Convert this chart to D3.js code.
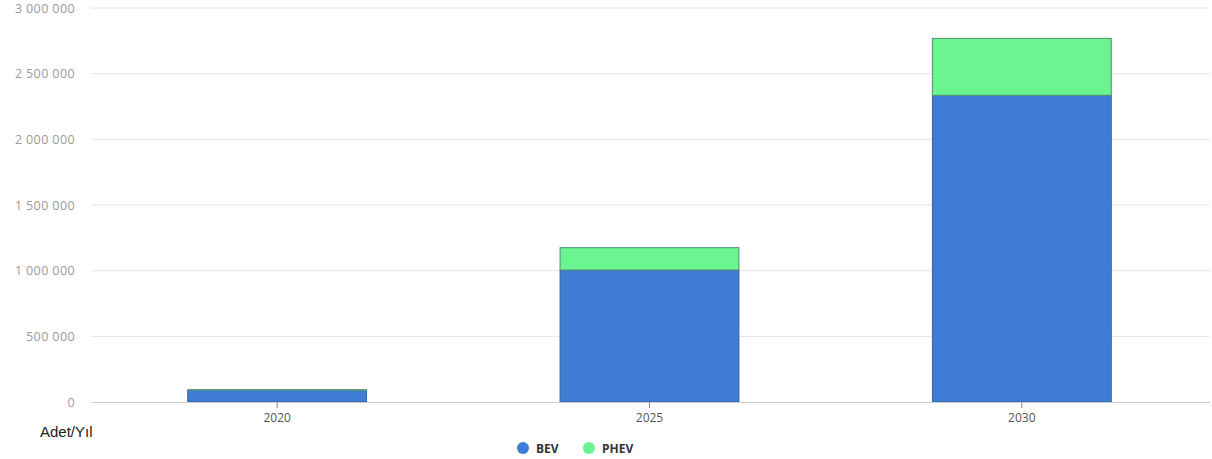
<!DOCTYPE html>
<html><head><meta charset="utf-8">
<script src="https://cdn.jsdelivr.net/npm/d3@7"></script>
<style>body{margin:0;background:#fff;font-family:"Open Sans",Arial,sans-serif}</style>
</head><body><svg id="c" width="1212" height="459"></svg>
<script>
const categories = ["2020", "2025", "2030"];
const bev = [90000, 1005000, 2335000];
const phev = [3000, 170000, 434000];
const yTicks = [0, 500000, 1000000, 1500000, 2000000, 2500000, 3000000];
const seriesNames = ["BEV", "PHEV"];
const colors = ["#3f7cd6", "#6af590"];
const strokes = ["#35649a", "#4f8f72"];

(function () {
const svg = d3.select("#c");
const mLeft = 91, mRight = 1208, mTop = 8, mBottom = 402;
const x = d3.scaleBand().domain(categories).range([mLeft, mRight]).paddingInner(0.517).paddingOuter(0.2585);
const y = d3.scaleLinear().domain([0, 3000000]).range([mBottom, mTop]);
const fmt = v => d3.format(",")(v).replace(/,/g, " ");

svg.append("g").selectAll("line").data(yTicks.filter(d => d > 0)).join("line")
  .attr("x1", mLeft).attr("x2", 1210).attr("y1", d => y(d)).attr("y2", d => y(d))
  .attr("stroke", "#e6e6e6").attr("stroke-width", 1);

svg.append("g").selectAll("text").data(yTicks).join("text")
  .attr("x", 75).attr("y", d => y(d) + 4.5).attr("text-anchor", "end")
  .attr("font-size", 12.5).attr("letter-spacing", 0.4).attr("fill", "#9a9a9a").text(d => fmt(d));

const data = categories.map((c, i) => ({cat: c, BEV: bev[i], PHEV: phev[i]}));
const stack = d3.stack().keys(seriesNames)(data);
svg.append("g").selectAll("g").data(stack).join("g")
  .attr("fill", (d, i) => colors[i]).attr("stroke", (d, i) => strokes[i])
  .selectAll("rect").data(d => d).join("rect")
  .attr("x", d => x(d.data.cat) + 0.5).attr("width", x.bandwidth() - 1)
  .attr("y", d => y(d[1])).attr("height", d => y(d[0]) - y(d[1]))
  .attr("stroke-width", 1);

svg.append("line").attr("x1", mLeft).attr("x2", 1210).attr("y1", mBottom + 0.5).attr("y2", mBottom + 0.5)
  .attr("stroke", "#cccccc");

const xg = svg.append("g").attr("transform", `translate(0,${mBottom})`);
xg.selectAll("line").data(categories).join("line")
  .attr("x1", d => x(d) + x.bandwidth() / 2).attr("x2", d => x(d) + x.bandwidth() / 2)
  .attr("y1", 0).attr("y2", 6).attr("stroke", "#888");
xg.selectAll("text").data(categories).join("text")
  .attr("x", d => x(d) + x.bandwidth() / 2).attr("y", 20).attr("text-anchor", "middle")
  .attr("font-size", 12).attr("fill", "#555").text(d => d);

svg.append("text").attr("x", 40).attr("y", 437).attr("font-size", 15)
  .attr("font-family", "Liberation Sans, Arial, sans-serif").attr("fill", "#222").text("Adet/Yıl");

const lg = svg.append("g");
const lx = [523, 589];
seriesNames.forEach((s, i) => {
  lg.append("circle").attr("cx", lx[i]).attr("cy", 448).attr("r", 6).attr("fill", colors[i]);
  lg.append("text").attr("x", lx[i] + 13).attr("y", 452.5).attr("font-size", 12).attr("font-weight", "bold")
    .attr("fill", "#333").text(s);
});
})();
</script></body></html>
